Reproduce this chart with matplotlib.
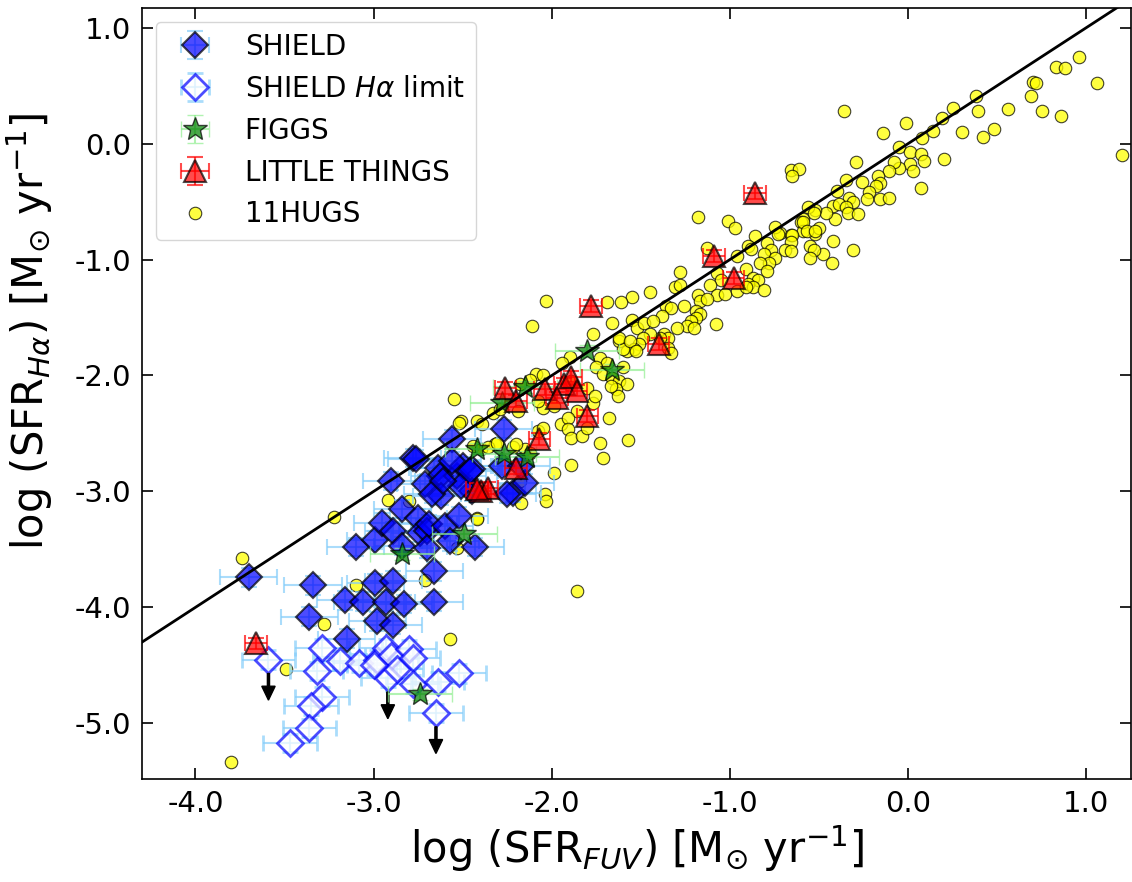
import matplotlib
matplotlib.use("Agg")
import matplotlib.pyplot as plt
from matplotlib.ticker import FormatStrFormatter

# 11HUGS (log SFR_FUV, log SFR_Halpha)
hugs_x = [0.96, 0.83, 0.88, 1.06, 0.70, 0.72, 0.69, 0.75, 0.86, 1.20, 0.56, 0.48, 0.42, 0.39, 0.38,
          0.30, 0.25, 0.19, 0.20, 0.14, 0.08, -0.01, -0.14, -0.36, -0.05, 0.01, 0.07, 0.09, 0.01, -0.05,
          -0.08, 0.03, 0.07, -0.11, -0.17, -0.16, -0.18, -0.29, -0.26, -0.22, -0.23, -0.16, -0.11, -0.35,
          -0.40, -0.33, -0.31, -0.42, -0.39, -0.35, -0.34, -0.28, -0.41, -0.46, -0.52, -0.56, -0.59, -0.60,
          -0.59, -0.52, -0.50, -0.66, -0.61, -0.65, -0.72, -0.66, -0.42, -0.48, -0.43, -0.31, -0.55,
          -1.18, -1.01, -0.97, -0.86, -0.90, -0.88, -0.75, -0.73, -0.65, -0.66, -0.69, -0.66, -0.79, -0.77,
          -0.81, -0.75, -0.78, -0.83, -0.79, -0.59, -0.53, -0.57, -0.52, -0.53, -0.55, -1.13, -0.96, -0.91,
          -0.87, -0.84, -0.90, -0.87, -0.81, -1.07, -1.05, -1.28, -1.11, -1.07, -1.03, -0.96, -0.91, -1.31,
          -1.28, -1.18, -1.17, -1.13, -1.45, -1.55, -1.61, -1.69, -1.36, -1.33, -1.26, -1.38, -1.19, -1.17,
          -1.19, -1.22, -1.24, -1.20, -1.30, -1.08, -1.66, -1.55, -1.52, -1.48, -1.43, -1.37, -1.35, -1.39,
          -1.45, -1.49, -1.51, -1.54, -1.58, -1.62, -1.60, -1.35, -1.33,
          -1.77, -1.62, -1.56, -1.53, -1.73, -1.69, -1.75, -1.71, -1.66, -1.62, -1.58, -1.64, -1.63, -1.67,
          -1.60, -1.90, -1.94, -1.89, -2.09, -2.05, -2.12, -2.55, -2.51, -2.05, -1.99, -1.86, -1.77, -1.80,
          -1.76, -1.95, -1.91, -1.91, -1.89, -1.83, -1.80, -1.68, -1.73, -1.71, -1.57, -1.89, -1.99, -2.15,
          -2.12, -2.08, -2.05, -2.44, -2.40, -2.32, -2.36, -2.42, -2.39, -2.33, -2.29, -2.19, -2.18, -2.08,
          -2.18, -2.04, -2.03, -2.17, -2.42,
          -2.03, -2.11, -1.86, -3.74, -3.22, -3.80, -3.28, -3.49, -2.57, -3.10, -2.71, -2.53, -2.92, -2.80,
          -2.42, -2.52, -2.31, -2.22, -2.20]
hugs_y = [0.75, 0.66, 0.65, 0.52, 0.53, 0.52, 0.41, 0.28, 0.24, -0.10, 0.30, 0.13, 0.06, 0.28, 0.41,
          0.10, 0.31, 0.22, -0.13, 0.11, 0.05, 0.18, 0.09, 0.28, -0.03, -0.07, -0.09, -0.15, -0.18, -0.21,
          -0.16, -0.24, -0.38, -0.24, -0.28, -0.34, -0.37, -0.16, -0.33, -0.42, -0.48, -0.48, -0.47, -0.31,
          -0.41, -0.47, -0.50, -0.54, -0.52, -0.55, -0.60, -0.61, -0.65, -0.60, -0.57, -0.55, -0.65, -0.68,
          -0.75, -0.78, -0.73, -0.23, -0.22, -0.28, -0.77, -0.79, -0.84, -0.95, -1.03, -0.92, -0.88,
          -0.63, -0.67, -0.73, -0.80, -0.88, -0.91, -0.72, -0.78, -0.79, -0.85, -0.92, -0.93, -0.86, -0.92,
          -0.95, -0.99, -1.03, -1.03, -1.10, -0.68, -0.60, -0.75, -0.75, -0.92, -0.99, -0.90, -0.97, -1.08,
          -1.16, -1.18, -1.21, -1.24, -1.26, -1.12, -1.18, -1.11, -1.22, -1.31, -1.30, -1.27, -1.24, -1.24,
          -1.22, -1.31, -1.36, -1.34, -1.28, -1.32, -1.37, -1.37, -1.40, -1.42, -1.40, -1.49, -1.44, -1.47,
          -1.50, -1.53, -1.57, -1.59, -1.59, -1.56, -1.55, -1.52, -1.59, -1.55, -1.53, -1.64, -1.68, -1.68,
          -1.64, -1.68, -1.73, -1.77, -1.79, -1.70, -1.77, -1.76, -1.81,
          -1.64, -1.68, -1.70, -1.79, -1.85, -1.89, -1.93, -1.99, -2.02, -2.05, -2.07, -2.12, -2.18, -2.09,
          -1.93, -1.84, -1.89, -2.05, -1.99, -2.00, -2.04, -2.20, -2.39, -2.28, -2.26, -2.31, -2.24, -2.11,
          -2.18, -2.42, -2.37, -2.46, -2.54, -2.52, -2.45, -2.37, -2.58, -2.71, -2.56, -2.77, -2.84, -2.63,
          -2.67, -2.48, -2.45, -2.61, -2.63, -2.59, -2.62, -2.39, -2.42, -2.32, -2.29, -2.31, -2.07, -2.22,
          -2.91, -3.02, -3.08, -3.10, -3.23,
          -1.36, -1.57, -3.86, -3.57, -3.22, -5.33, -4.14, -4.53, -4.27, -3.81, -3.76, -3.49, -3.07, -3.08,
          -3.24, -2.41, -2.58, -2.62, -2.59]

# SHIELD detections
shield_x = [-3.70, -3.34, -3.36, -3.15, -3.16, -3.06, -2.99, -2.89, -2.93, -2.83, -2.98, -2.89, -2.66,
            -2.66, -3.10, -2.99, -2.95, -2.89, -2.84, -2.84, -2.90, -2.78, -2.75, -2.74, -2.70, -2.69,
            -2.70, -2.64, -2.63, -2.71, -2.62, -2.56, -2.53, -2.50, -2.45, -2.60, -2.57, -2.52, -2.43,
            -2.27, -2.28, -2.22, -2.15, -2.17, -2.45, -2.51, -2.67, -2.56, -2.46, -2.61, -2.25, -2.76]
shield_y = [-3.74, -3.81, -4.08, -4.27, -3.94, -3.95, -3.79, -3.77, -3.95, -3.97, -4.12, -4.15, -3.95,
            -3.69, -3.48, -3.42, -3.27, -3.34, -3.47, -3.15, -2.91, -2.71, -3.23, -3.36, -3.34, -3.28,
            -3.49, -2.80, -2.87, -2.94, -3.04, -2.55, -2.87, -2.78, -2.81, -3.30, -3.43, -3.21, -3.48,
            -2.46, -2.78, -3.01, -2.93, -2.78, -3.00, -2.95, -3.02, -2.74, -2.82, -2.91, -3.02, -2.72]

# SHIELD Halpha upper limits
lim_x = [-3.59, -3.29, -3.32, -3.19, -3.08, -3.29, -3.35, -3.36, -3.47, -2.98, -2.93, -2.90, -2.92,
         -2.87, -2.80, -2.78, -2.78, -2.64, -2.52, -2.65, -3.00]
lim_y = [-4.45, -4.35, -4.55, -4.46, -4.48, -4.77, -4.85, -5.04, -5.17, -4.45, -4.35, -4.42, -4.61,
         -4.53, -4.36, -4.44, -4.66, -4.64, -4.57, -4.91, -4.50]
arrow_x = [-3.59, -2.92, -2.65]
arrow_y = [-4.45, -4.61, -4.91]

# FIGGS
figgs_x = [-1.80, -1.66, -2.15, -2.28, -2.27, -2.14, -2.49, -2.84, -2.74, -2.42]
figgs_y = [-1.79, -1.95, -2.10, -2.24, -2.68, -2.70, -3.37, -3.54, -4.75, -2.63]

# LITTLE THINGS
lt_x = [-0.86, -1.09, -0.98, -1.40, -1.78, -2.26, -2.20, -2.04, -1.93, -1.89, -1.86, -1.97, -1.80,
        -2.07, -2.40, -2.36, -2.42, -2.20, -3.66]
lt_y = [-0.43, -0.97, -1.16, -1.73, -1.40, -2.11, -2.22, -2.12, -2.07, -2.01, -2.13, -2.19, -2.35,
        -2.55, -3.00, -2.97, -2.98, -2.80, -4.31]

fig = plt.figure(figsize=(11.32, 8.82), dpi=100)
ax = fig.add_axes([0.1254, 0.1168, 0.8736, 0.8742])

# 11HUGS behind everything
h_hugs, = ax.plot(hugs_x, hugs_y, 'o', ms=9, mfc='yellow', mec='k', mew=0.8, alpha=0.75,
                  zorder=2, label='11HUGS')

h_shield = ax.errorbar(shield_x, shield_y, xerr=0.16, yerr=0.08, fmt='D', ms=13,
                       mfc='blue', mec='k', mew=1.5, alpha=0.7, ecolor='lightskyblue',
                       elinewidth=1.5, capsize=6, zorder=3, label='SHIELD')
h_lim = ax.errorbar(lim_x, lim_y, xerr=0.15, yerr=0.08, fmt='D', ms=13,
                    mfc='white', mec='blue', mew=2, alpha=0.7, ecolor='lightskyblue',
                    elinewidth=1.5, capsize=6, zorder=3, label=r'SHIELD $H\alpha$ limit')
for xa, ya in zip(arrow_x, arrow_y):
    ax.arrow(xa, ya - 0.12, 0, -0.23, head_width=0.075, head_length=0.12, width=0.012,
             length_includes_head=True, fc='k', ec='k', zorder=4)

h_figgs = ax.errorbar(figgs_x, figgs_y, xerr=0.18, yerr=0.05, fmt='*', ms=18,
                      mfc='green', mec='k', mew=1, alpha=0.7, ecolor='lightgreen',
                      elinewidth=1.5, capsize=6, zorder=4, label='FIGGS')
h_lt = ax.errorbar(lt_x, lt_y, xerr=0.06, yerr=0.05, fmt='^', ms=16,
                   mfc='red', mec='k', mew=1.5, alpha=0.7, ecolor='red',
                   elinewidth=1.5, capsize=6, zorder=4, label='LITTLE THINGS')

# one-to-one line
ax.plot([-5, 2], [-5, 2], color='k', lw=2, zorder=6)

ax.set_xlim(-4.3, 1.25)
ax.set_ylim(-5.48, 1.17)
ax.set_xticks([-4, -3, -2, -1, 0, 1])
ax.set_yticks([-5, -4, -3, -2, -1, 0, 1])
ax.xaxis.set_major_formatter(FormatStrFormatter('%.1f'))
ax.yaxis.set_major_formatter(FormatStrFormatter('%.1f'))
ax.tick_params(direction='in', top=True, right=True, length=8, width=1.2, labelsize=21, pad=8)
for s in ax.spines.values():
    s.set_linewidth(1.2)

ax.set_xlabel(r'$\log\,(\mathrm{SFR}_{FUV})$ [M$_{\odot}$ yr$^{-1}$]', fontsize=30)
ax.set_ylabel(r'$\log\,(\mathrm{SFR}_{H\alpha})$ [M$_{\odot}$ yr$^{-1}$]', fontsize=30)
ax.yaxis.set_label_coords(-0.088, 0.58)

ax.legend([h_shield, h_lim, h_figgs, h_lt, h_hugs],
          ['SHIELD', r'SHIELD $H\alpha$ limit', 'FIGGS', 'LITTLE THINGS', '11HUGS'],
          loc='upper left', fontsize=20)

fig.savefig('out.png', dpi=100)
